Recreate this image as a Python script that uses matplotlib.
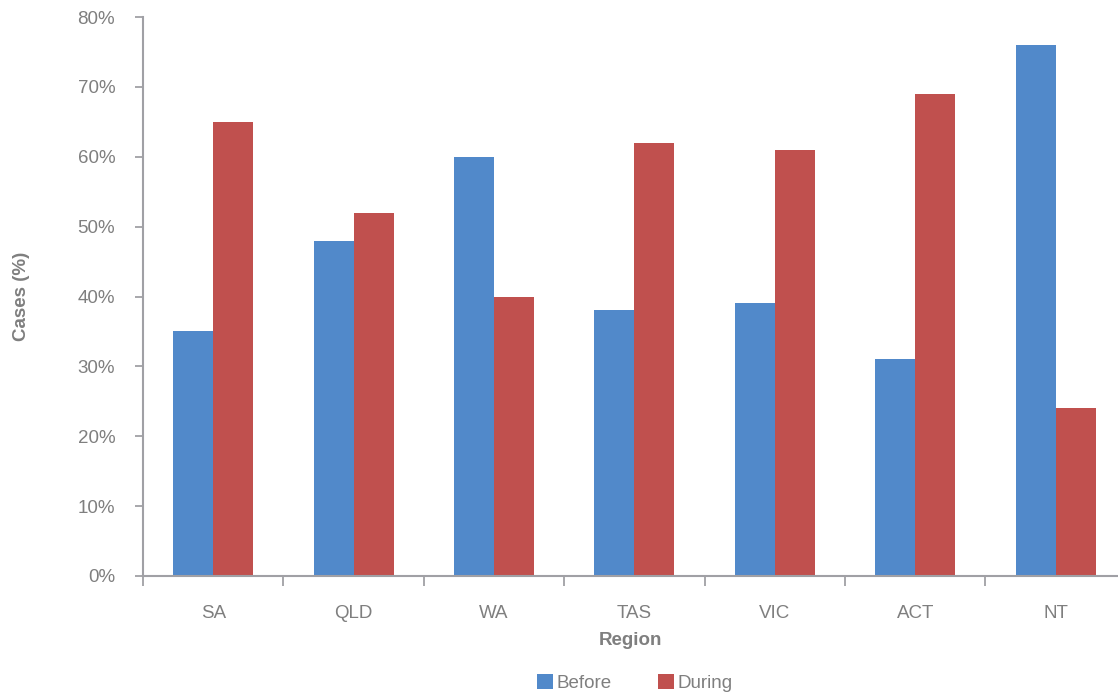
import matplotlib
matplotlib.use("Agg")
import matplotlib.pyplot as plt
import numpy as np
from matplotlib.ticker import PercentFormatter, MultipleLocator

regions = ["SA", "QLD", "WA", "TAS", "VIC", "ACT", "NT"]
before = [35, 48, 60, 38, 39, 31, 76]
during = [65, 52, 40, 62, 61, 69, 24]

blue = "#5189CA"
red = "#C0504E"
text_gray = "#7F7F7F"
axis_gray = "#A0A0A5"

plt.rcParams["font.family"] = ["Liberation Sans", "DejaVu Sans"]

fig = plt.figure(figsize=(11.18, 6.94), dpi=100)
ax = fig.add_axes([143 / 1118, 1 - 576 / 694, 1 - 143 / 1118, (576 - 17) / 694])

x = np.arange(len(regions))
w = 0.285
ax.bar(x - w / 2, before, width=w, color=blue, label="Before", zorder=2)
ax.bar(x + w / 2, during, width=w, color=red, label="During", zorder=2)

ax.yaxis.set_major_locator(MultipleLocator(10))
ax.yaxis.set_major_formatter(PercentFormatter(decimals=0))

ax.set_xticks(x)
ax.set_xticklabels(regions)
ax.set_xticks(np.arange(-0.5, 6.0, 1.0), minor=True)
ax.set_ylim(0, 80)
ax.set_xlim(-0.5, 6.444)
ax.tick_params(axis="x", which="major", length=0, pad=21, labelsize=13.5, labelcolor=text_gray)
ax.tick_params(axis="x", which="minor", length=7, width=1.3, color=axis_gray, direction="out")
ax.tick_params(axis="y", length=6, width=1.3, color=axis_gray, labelsize=13.5,
               labelcolor=text_gray, pad=14)

for s in ["top", "right"]:
    ax.spines[s].set_visible(False)
for s in ["left", "bottom"]:
    ax.spines[s].set_color(axis_gray)
    ax.spines[s].set_linewidth(1.5)

ax.set_xlabel("Region", fontsize=13.5, fontweight="bold", color=text_gray, labelpad=7)
ax.set_ylabel("Cases (%)", fontsize=13.5, fontweight="bold", color=text_gray)
ax.yaxis.set_label_coords(-0.116, 0.5)

fig.legend(loc="center", bbox_to_anchor=(635 / 1118, 1 - 683 / 694), ncol=2, frameon=False,
           fontsize=13.5, labelcolor=text_gray, handlelength=0.85, handleheight=0.85,
           handletextpad=0.2, columnspacing=2.45)

fig.savefig("out.png", dpi=100)
